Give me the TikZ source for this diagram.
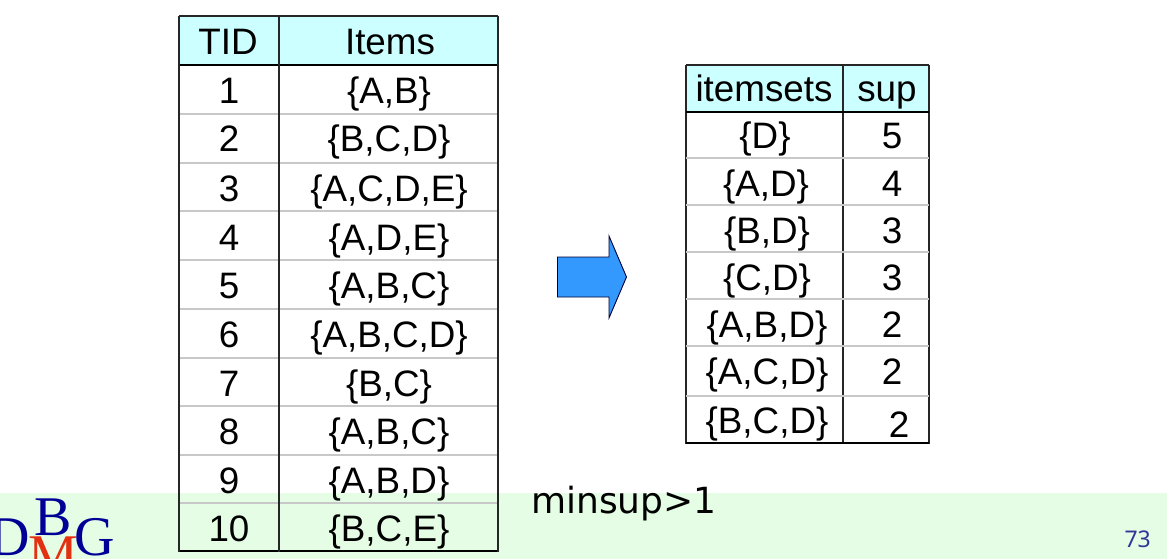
\documentclass[tikz,border=0pt]{standalone}
\usepackage{fontspec}
\setmainfont{Liberation Sans}
\newfontfamily\minsupfont{DejaVu Sans}
\newfontfamily\tahomalike{Noto Sans}
\newfontfamily\logofont{Liberation Serif}
\definecolor{bandgreen}{RGB}{228,253,228}
\definecolor{headcyan}{RGB}{204,255,255}
\definecolor{rulegrey}{RGB}{200,200,200}
\definecolor{arrowblue}{RGB}{51,153,255}
\definecolor{logoblue}{RGB}{0,0,150}
\definecolor{logored}{RGB}{226,48,16}
\definecolor{pageblue}{RGB}{51,51,153}
\tikzset{
  cell/.style={anchor=base,inner sep=0pt,font=\fontsize{36.8}{40}\selectfont,text=black},
  blackrule/.style={draw=black,line width=2pt},
  thinrule/.style={draw=black!85,line width=1.6pt},
  greyrule/.style={draw=rulegrey,line width=2pt},
  logo/.style={anchor=base,inner sep=0pt,font=\fontsize{56}{60}\logofont},
}
\begin{document}
\begin{tikzpicture}[x=1pt,y=-1pt]
\useasboundingbox (0,0) rectangle (1167,559);
\clip (0,0) rectangle (1167,559);
\fill[white] (0,0) rectangle (1167,559);
\fill[bandgreen] (0,493) rectangle (1167,559);
% left table
\fill[headcyan] (179,16) rectangle (498,65);
\foreach \yy in {114,163,211,260,309,358,406,455,503} \draw[greyrule] (179,\yy) -- (498,\yy);
\draw[thinrule] (179,16) -- (498,16);
\draw[blackrule] (179,65) -- (498,65);
\draw[blackrule] (179,551) -- (498,551);
\foreach \xx in {179,279,498} \draw[thinrule] (\xx,16) -- (\xx,552);
\node[cell] (ltid) at (228,55) {TID};
\node[cell] (litems) at (390,55) {Items};
\node[cell] (n1) at (229,104) {1};
\node[cell] (s1) at (389,104) {\{A,B\}};
\node[cell] (n2) at (229,152) {2};
\node[cell] (s2) at (389,152) {\{B,C,D\}};
\node[cell] (n3) at (229,201) {3};
\node[cell] (s3) at (389,201) {\{A,C,D,E\}};
\node[cell] (n4) at (229,250) {4};
\node[cell] (s4) at (389,250) {\{A,D,E\}};
\node[cell] (n5) at (229,298) {5};
\node[cell] (s5) at (389,298) {\{A,B,C\}};
\node[cell] (n6) at (229,347) {6};
\node[cell] (s6) at (389,347) {\{A,B,C,D\}};
\node[cell] (n7) at (229,396) {7};
\node[cell] (s7) at (389,396) {\{B,C\}};
\node[cell] (n8) at (229,444) {8};
\node[cell] (s8) at (389,444) {\{A,B,C\}};
\node[cell] (n9) at (229,493) {9};
\node[cell] (s9) at (389,493) {\{A,B,D\}};
\node[cell] (n10) at (229,541) {10};
\node[cell] (s10) at (389,541) {\{B,C,E\}};
% arrow
\draw[fill=arrowblue,draw=black!80!blue,line width=0.9pt,line join=miter]
  (557.5,257) -- (609,257) -- (609,236) -- (626.5,277) -- (609,318) -- (609,297) -- (557.5,297) -- cycle;
% right table
\fill[headcyan] (686,65) rectangle (929,112);
\foreach \xx in {686,843,929} \draw[thinrule] (\xx,65) -- (\xx,444);
\draw[thinrule] (686,65) -- (929,65);
\draw[blackrule] (686,112) -- (929,112);
\foreach \yy in {158,205,252,299,346,396} \draw[greyrule] (686,\yy) -- (929,\yy);
\draw[blackrule] (686,443) -- (929,443);
\node[cell] (rhead) at (764,102) {itemsets};
\node[cell] (rsup) at (887,102) {sup};
\node[cell] (i1) at (765,149) {\{D\}};
\node[cell] (c1) at (892,149) {5};
\node[cell] (i2) at (766,196) {\{A,D\}};
\node[cell] (c2) at (892,196) {4};
\node[cell] (i3) at (767,243) {\{B,D\}};
\node[cell] (c3) at (892,243) {3};
\node[cell] (i4) at (767,290) {\{C,D\}};
\node[cell] (c4) at (892,290) {3};
\node[cell] (i5) at (767,337) {\{A,B,D\}};
\node[cell] (c5) at (892,337) {2};
\node[cell] (i6) at (767,384) {\{A,C,D\}};
\node[cell] (c6) at (892,384) {2};
\node[cell] (i7) at (767,433) {\{B,C,D\}};
\node[cell] (c7) at (899,437) {2};
% labels
\node[anchor=base west,inner sep=0pt,font=\fontsize{36}{40}\minsupfont] (minsup) at (531,513) {minsup>1};
\node[anchor=base east,inner sep=0pt,font=\fontsize{23}{26}\tahomalike,text=pageblue] (pagenum) at (1151,547) {73};
% logo
\node[logo,text=logored] (lm) at (53,573) {M};
\node[logo,text=logoblue,anchor=base east] (ld) at (30,555) {D};
\node[logo,text=logoblue] (lb) at (53,535) {B};
\node[logo,text=logoblue,anchor=base west] (lg) at (74,555) {G};
\end{tikzpicture}
\end{document}
